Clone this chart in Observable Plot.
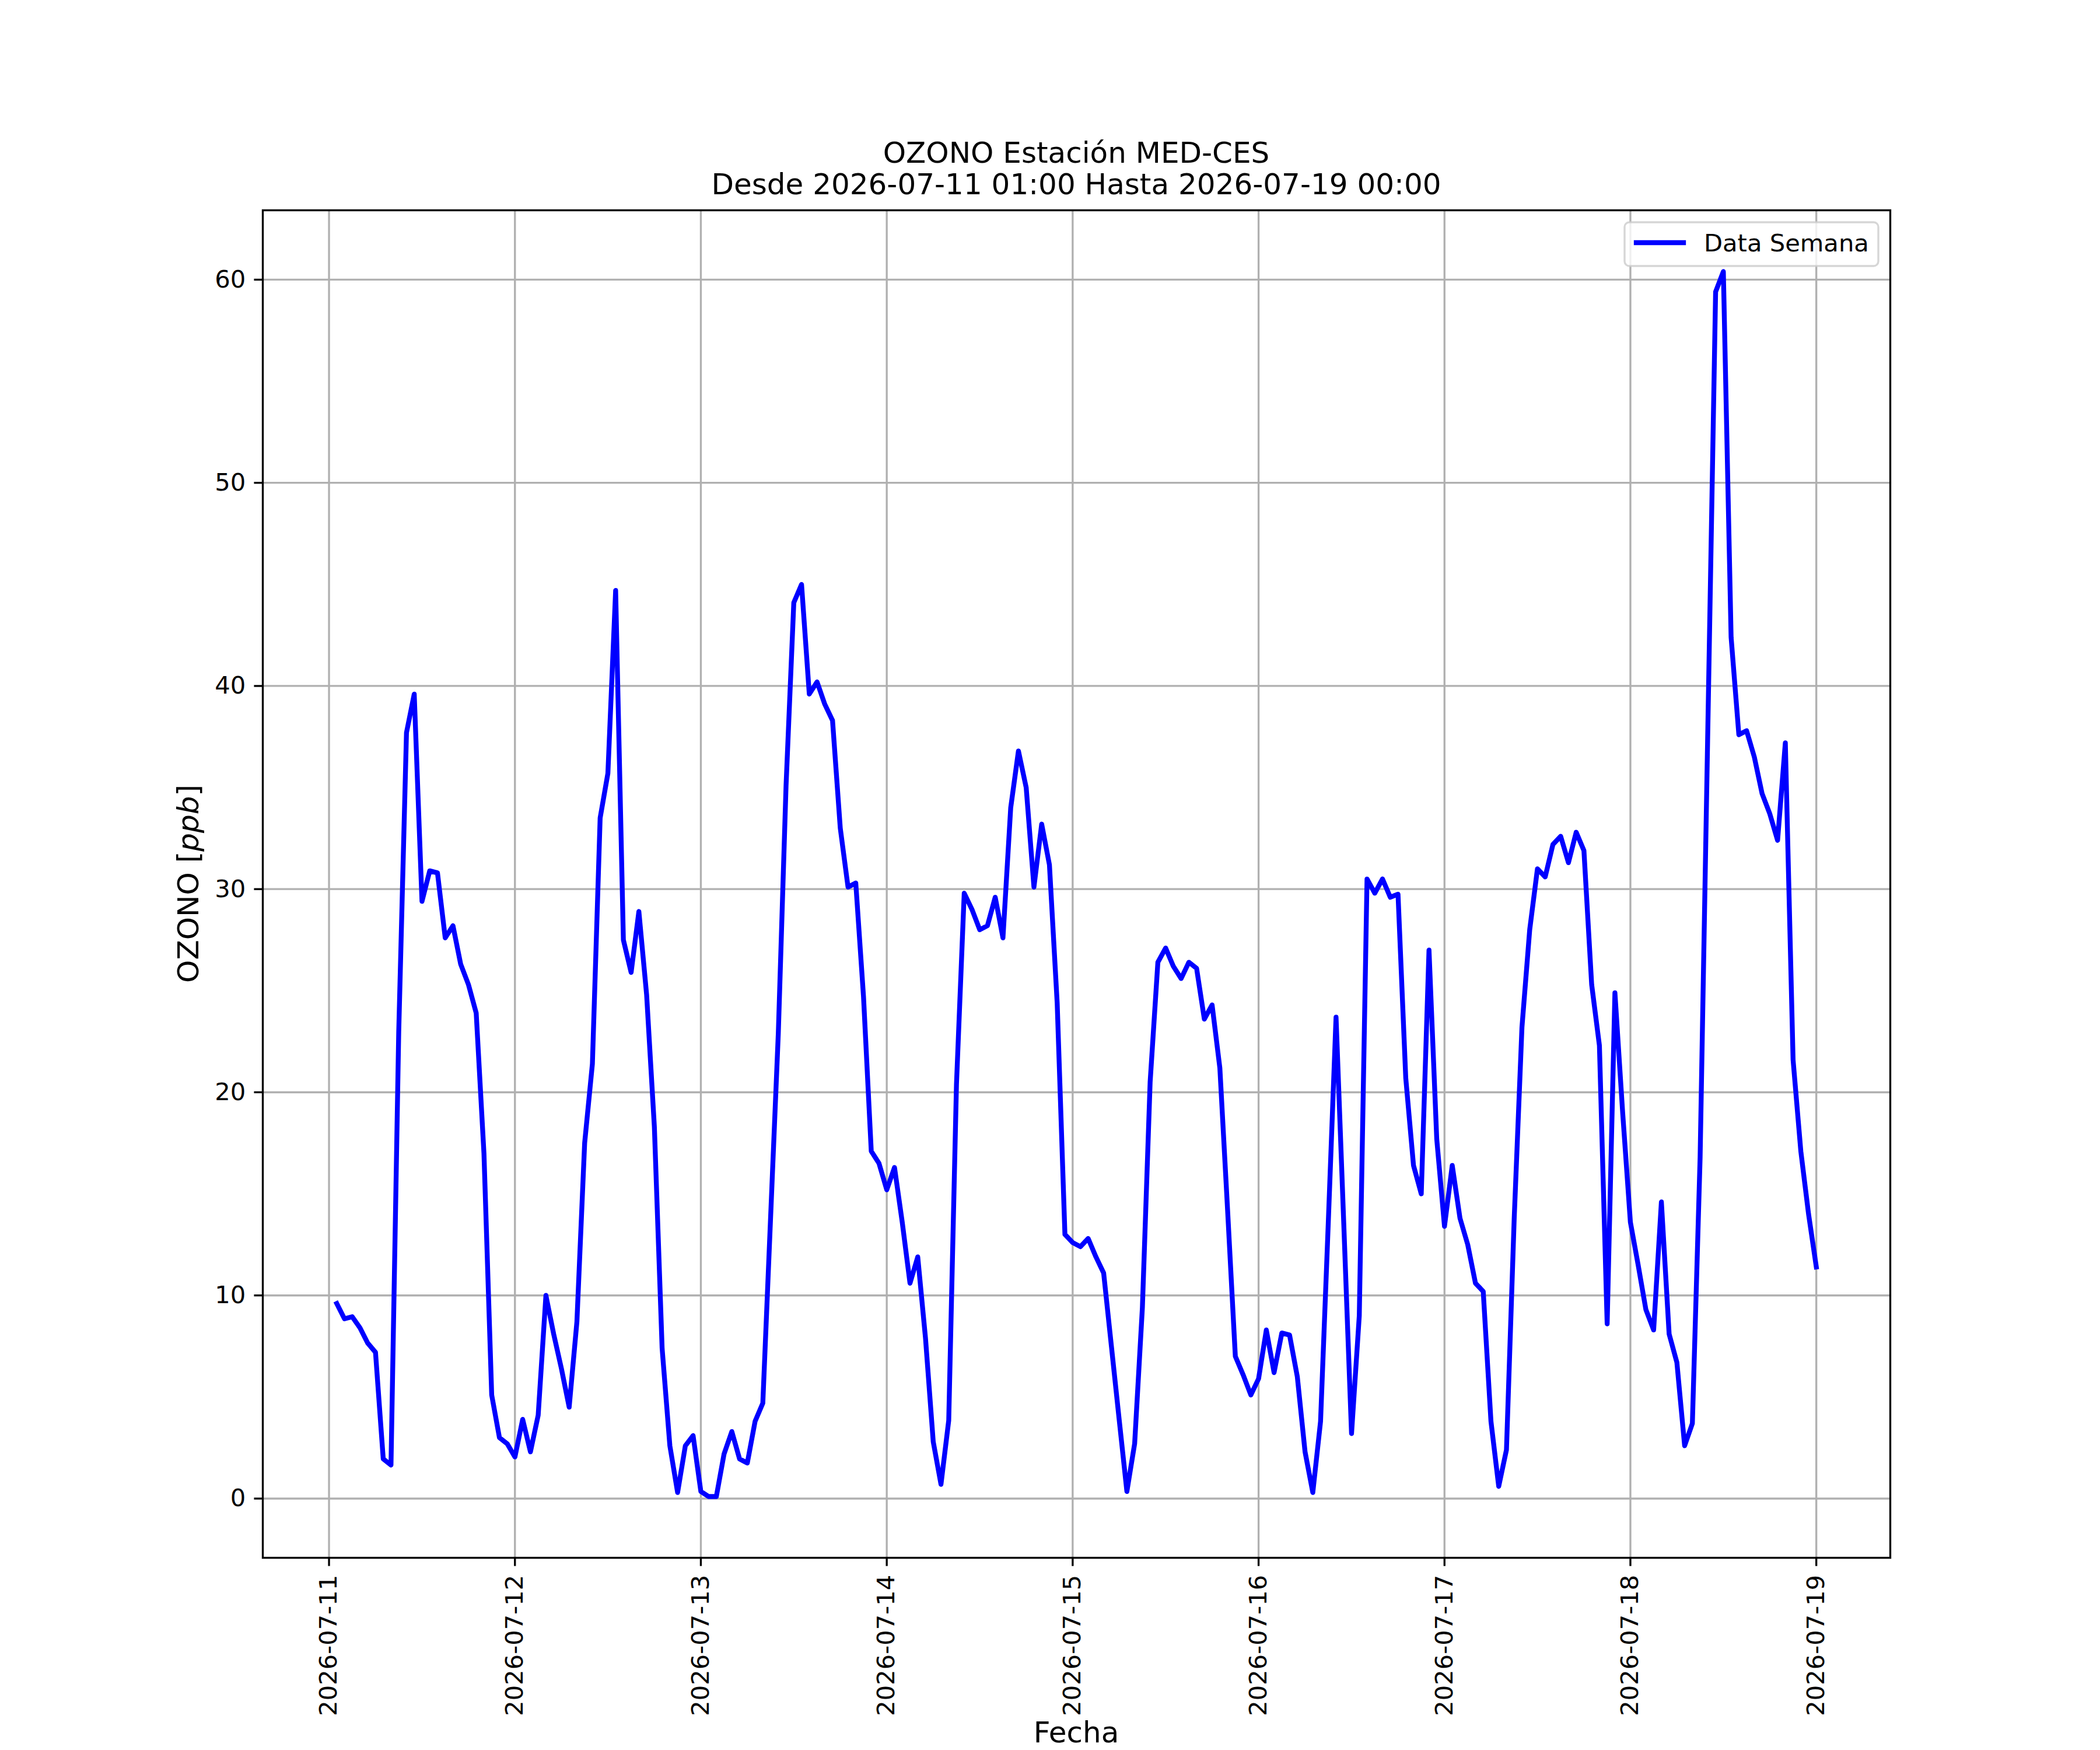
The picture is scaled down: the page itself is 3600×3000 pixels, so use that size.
<!DOCTYPE html>
<html>
<head>
<meta charset="utf-8">
<script src="https://cdn.jsdelivr.net/npm/d3@7"></script>
<script src="https://cdn.jsdelivr.net/npm/@observablehq/plot@0.6"></script>
<style>
  html, body { margin: 0; padding: 0; background: white; }
  #chart svg { display: block; }
</style>
</head>
<body>
<div id="chart"></div>
<script>
// Hourly ozone values (ppb), each day from 01:00 to 00:00 of the next day
const day11 = [9.6, 8.85, 8.95, 8.4, 7.65, 7.2, 1.95, 1.65, 23.0, 37.7, 39.6, 29.4, 30.9, 30.8, 27.6, 28.2, 26.3, 25.3, 23.9, 17.0, 5.1, 3.0, 2.7, 2.05];
const day12 = [3.9, 2.3, 4.1, 10.0, 8.1, 6.4, 4.5, 8.7, 17.5, 21.4, 33.5, 35.7, 44.7, 27.5, 25.9, 28.9, 24.8, 18.3, 7.4, 2.6, 0.3, 2.6, 3.1, 0.35];
const day13 = [0.1, 0.1, 2.2, 3.3, 1.95, 1.75, 3.8, 4.7, 13.8, 22.9, 35.1, 44.1, 45.0, 39.6, 40.2, 39.1, 38.3, 33.0, 30.1, 30.3, 24.7, 17.1, 16.5, 15.2];
const day14 = [16.3, 13.6, 10.6, 11.9, 7.9, 2.8, 0.7, 3.85, 20.4, 29.8, 29.0, 28.0, 28.2, 29.6, 27.6, 34.0, 36.8, 35.0, 30.1, 33.2, 31.2, 24.4, 13.0, 12.6];
const day15 = [12.4, 12.8, 11.9, 11.1, 7.5, 3.9, 0.35, 2.7, 9.4, 20.5, 26.4, 27.1, 26.2, 25.6, 26.4, 26.1, 23.6, 24.3, 21.2, 14.2, 7.0, 6.1, 5.1, 5.9];
const day16 = [8.3, 6.2, 8.15, 8.05, 6.0, 2.3, 0.3, 3.8, 13.6, 23.7, 13.5, 3.2, 9.0, 30.5, 29.8, 30.5, 29.6, 29.75, 20.7, 16.4, 15.0, 27.0, 17.7, 13.4];
const day17 = [16.4, 13.8, 12.5, 10.6, 10.2, 3.8, 0.6, 2.4, 13.8, 23.2, 28.0, 31.0, 30.6, 32.2, 32.6, 31.3, 32.8, 31.9, 25.3, 22.3, 8.6, 24.9, 19.0, 13.6];
const day18 = [11.5, 9.3, 8.3, 14.6, 8.1, 6.7, 2.6, 3.7, 16.8, 38.0, 59.4, 60.4, 42.4, 37.6, 37.8, 36.5, 34.7, 33.7, 32.4, 37.2, 21.6, 17.1, 14.0, 11.4];

const startTime = "2026-07-11T01:00:00Z";
const dayTicks = ["2026-07-11", "2026-07-12", "2026-07-13", "2026-07-14", "2026-07-15", "2026-07-16", "2026-07-17", "2026-07-18", "2026-07-19"];
const yTicks = [0, 10, 20, 30, 40, 50, 60];

const titleLine1 = "OZONO Estación MED-CES";
const titleLine2 = "Desde 2026-07-11 01:00 Hasta 2026-07-19 00:00";
const xLabel = "Fecha";
const seriesName = "Data Semana";

// Build table
const values = [].concat(day11, day12, day13, day14, day15, day16, day17, day18);
const t0 = new Date(startTime).getTime();
const HOUR = 3600 * 1000;
const data = values.map((v, i) => ({ t: new Date(t0 + i * HOUR), v }));
const xTickDates = dayTicks.map(d => new Date(d + "T00:00:00Z"));

// matplotlib-like 5% margins
const [tMin, tMax] = d3.extent(data, d => d.t.getTime());
const tPad = (tMax - tMin) * 0.05;
const [vMin, vMax] = d3.extent(values);
const vPad = (vMax - vMin) * 0.05;

// Layout (px) : figure 3600x3000 at 300 dpi
const W = 3600, H = 3000;
const mL = 450, mR = 360, mT = 360, mB = 330;
const PT = 300 / 72;
const lw = 2 * PT, gw = 0.8 * PT, tickLen = 3.5 * PT, tickPad = 3.5 * PT;
const fs = 10 * PT, fsL = 12 * PT;
const font = "DejaVu Sans";

const chart = Plot.plot({
  width: W,
  height: H,
  marginLeft: mL,
  marginRight: mR,
  marginTop: mT,
  marginBottom: mB,
  style: { background: "white", fontFamily: font, color: "black" },
  x: { type: "utc", domain: [new Date(tMin - tPad), new Date(tMax + tPad)] },
  y: { domain: [vMin - vPad, vMax + vPad] },
  marks: [
    Plot.gridX(xTickDates, { stroke: "#b0b0b0", strokeOpacity: 1, strokeWidth: gw }),
    Plot.gridY(yTicks, { stroke: "#b0b0b0", strokeOpacity: 1, strokeWidth: gw }),
    Plot.line(data, { x: "t", y: "v", stroke: "#0000ff", strokeWidth: lw, strokeLinejoin: "round", strokeLinecap: "square" }),
    Plot.frame({ stroke: "black", strokeWidth: gw }),
    Plot.axisX(xTickDates, {
      tickSize: tickLen, tickPadding: tickPad, tickRotate: -90,
      tickFormat: d3.utcFormat("%Y-%m-%d"), fontSize: fs, strokeWidth: gw, label: null
    }),
    Plot.axisY(yTicks, {
      tickSize: tickLen, tickPadding: tickPad, fontSize: fs, strokeWidth: gw, label: null,
      tickFormat: d => String(d)
    })
  ]
});

document.getElementById("chart").appendChild(chart);

const svg = d3.select(chart);
const cx = mL + (W - mL - mR) / 2;
const cy = mT + (H - mT - mB) / 2;

// Title
const title = svg.append("g").attr("font-family", font).attr("font-size", fsL).attr("fill", "black").attr("text-anchor", "middle");
title.append("text").attr("x", cx).attr("y", 279).text(titleLine1);
title.append("text").attr("x", cx).attr("y", 333).text(titleLine2);

// X label
svg.append("text").attr("x", cx).attr("y", 2987).attr("text-anchor", "middle")
  .attr("font-family", font).attr("font-size", fsL).attr("fill", "black").text(xLabel);

// Y label with italic ppb
const yl = svg.append("text").attr("transform", `translate(340,${cy}) rotate(-90)`).attr("text-anchor", "middle")
  .attr("font-family", font).attr("font-size", fsL).attr("fill", "black");
yl.append("tspan").text("OZONO [");
yl.append("tspan").attr("font-style", "italic").text("ppb");
yl.append("tspan").text("]");

// Legend
const lg = svg.append("g");
lg.append("rect").attr("x", 2785).attr("y", 381).attr("width", 435).attr("height", 75).attr("rx", 8).attr("ry", 8)
  .attr("fill", "white").attr("fill-opacity", 0.8).attr("stroke", "#cccccc").attr("stroke-opacity", 0.8).attr("stroke-width", gw);
lg.append("line").attr("x1", 2805).attr("x2", 2886).attr("y1", 416).attr("y2", 416)
  .attr("stroke", "#0000ff").attr("stroke-width", lw).attr("stroke-linecap", "square");
lg.append("text").attr("x", 2921).attr("y", 431).attr("text-anchor", "start")
  .attr("font-family", font).attr("font-size", fs).attr("fill", "black").text(seriesName);
</script>
</body>
</html>
